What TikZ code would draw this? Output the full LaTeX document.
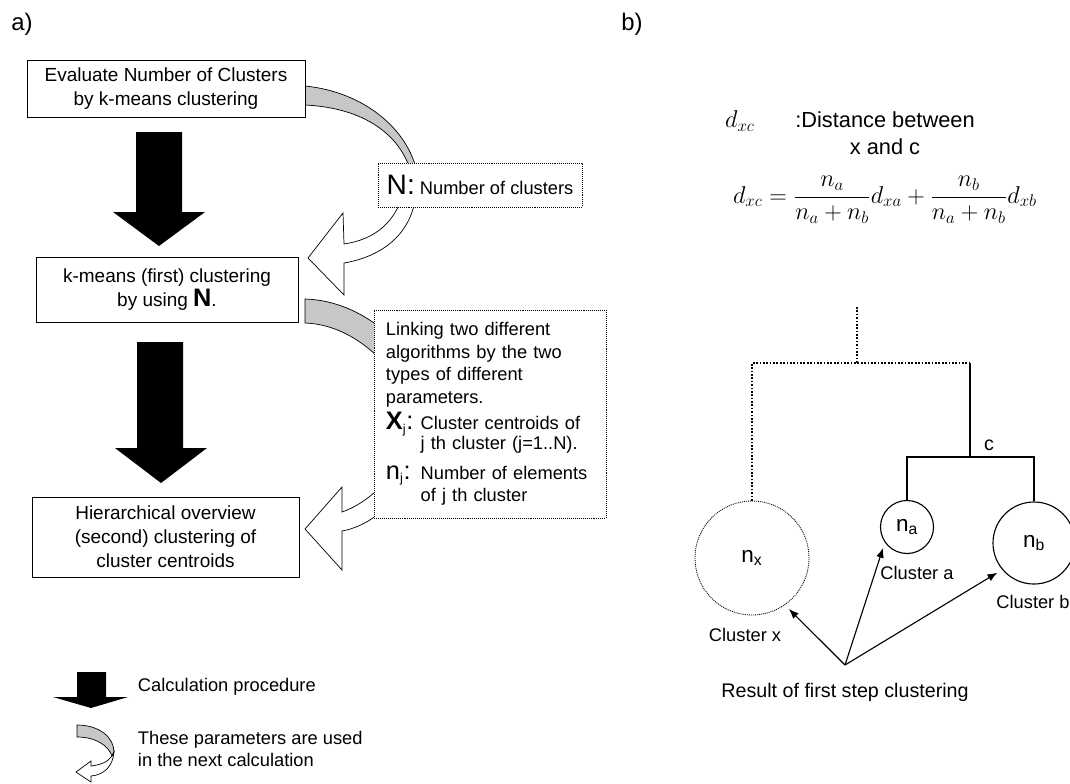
\documentclass[tikz,border=0pt]{standalone}
\usepackage{fontspec}
\setmainfont{Liberation Sans}
\usetikzlibrary{arrows.meta}

\newcommand{\bigtxt}[1]{{\fontsize{18}{18}\selectfont #1}}

\begin{document}
\begin{tikzpicture}[x=0.025cm,y=-0.025cm,font=\fontsize{13}{16}\selectfont,
	stepbox/.style={draw,line width=0.6pt,fill=white,align=center,inner sep=0pt,font=\fontsize{13.5}{17}\selectfont},
	notebox/.style={draw,line width=0.5pt,dash pattern=on 0.7pt off 0.7pt,fill=white,align=left},
	paramarrow/.style={draw=black,line width=0.5pt,fill=black!22},
	hollowarrow/.style={draw=black,line width=0.5pt,fill=white},
	treeline/.style={line width=1pt},
	treedots/.style={line width=1pt,dash pattern=on 1.2pt off 1.2pt},
	cluster/.style={circle,draw,line width=0.8pt,inner sep=0pt,font=\fontsize{16}{16}\selectfont},
	ptr/.style={-{Latex[length=7pt,width=5.5pt]},line width=0.8pt,shorten >=4pt}]
	\useasboundingbox (0,0) rectangle (1070,783);
	%
	% a) calculation procedure
	\node[font=\fontsize{17}{18}\selectfont] (lbla) at (22,24) {a)};
		\fill (136,132) -- (182,132) -- (182,212) -- (205,212) -- (159,246) -- (113,212) -- (136,212) -- cycle;
		\fill (137,342) -- (183,342) -- (183,448) -- (207,448) -- (161,483) -- (115,448) -- (137,448) -- cycle;
	% parameter N
		\path[paramarrow] (305,86) .. controls (365,92) and (408,130) .. (417,172) -- (411,172) .. controls (400,135) and (365,108) .. (305,105) -- cycle;
		\path[hollowarrow] (401,200) .. controls (392,225) and (372,240) .. (344,244) -- (343,213) -- (308,258) -- (344,295) -- (344,263) .. controls (385,256) and (410,232) .. (415,200) -- cycle;
	% parameters X_j, n_j
		\path[paramarrow] (305,299) .. controls (335,300) and (365,312) .. (395,340) -- (390,370) .. controls (365,340) and (335,324) .. (305,323) -- cycle;
		\path[hollowarrow] (395,470) .. controls (380,490) and (362,505) .. (342,512) -- (342,487) -- (305,529) -- (342,570) -- (342,531) .. controls (365,527) and (388,510) .. (400,490) -- cycle;
	%
	\node[stepbox,minimum width=6.95cm,minimum height=1.425cm] (evalbox) at (166,88.5) {Evaluate Number of Clusters\\by k-means clustering};
	\node[stepbox,minimum width=6.55cm,minimum height=1.625cm] (kmbox) at (167,289.5) {k-means (first) clustering\\by using \bigtxt{\textbf{N}}.};
	\node[stepbox,minimum width=6.675cm,minimum height=2cm] (hierbox) at (165.5,537) {Hierarchical overview\\(second) clustering of\\cluster centroids};
	%
	\node[notebox,minimum height=1.1cm,minimum width=5.1cm] (nbox) at (480,185) {{\fontsize{20}{20}\selectfont N:} Number of clusters};
	\node[notebox,minimum height=5.2cm,text width=5.2cm,inner xsep=0.3cm] (linkbox) at (490,414) {\hyphenpenalty=10000
		Linking two different\\
		algorithms by the two\\
		types of different\\
		parameters.\\[3pt]
		\makebox[1.9em][l]{\bigtxt{\textbf{X}}\textsubscript{j}\bigtxt{:}}Cluster centroids of\\[-2pt]
		\hspace*{1.9em}j th cluster (j=1..N).\\[5pt]
		\makebox[1.9em][l]{\bigtxt{n}\textsubscript{j}\bigtxt{:}}Number of elements\\
		\hspace*{1.9em}of j th cluster};
	%
	% legend
		\fill (77,672) -- (106,672) -- (106,697) -- (128,697) -- (91,708) -- (53,697) -- (77,697) -- cycle;
	\node[anchor=west] (legproc) at (133,687) {Calculation procedure};
		\path[paramarrow] (77,725) .. controls (100,725) and (114,738) .. (114,752) -- (112,756) .. controls (108,745) and (95,737) .. (77,737) -- cycle;
		\path[hollowarrow] (114,752) .. controls (113,766) and (104,775) .. (91,776) -- (91,782) -- (76,772) -- (91,761) -- (91,766) .. controls (100,765) and (108,762) .. (112,756) -- cycle;
	\node[anchor=west,align=left,font=\fontsize{13}{15.6}\selectfont] (legparam) at (133,749) {These parameters are used\\in the next calculation};
	%
	% b) hierarchical step
	\node[font=\fontsize{17}{18}\selectfont] (lblb) at (632,24) {b)};
	\node[font=\fontsize{18}{18}\selectfont] (dlabel) at (740,121) {$d_{xc}$};
	\node[font=\fontsize{15.5}{19}\selectfont,align=center] (dtext) at (885,133) {:Distance between\\x and c};
	\node[font=\fontsize{18}{22}\selectfont] (dformula) at (885,200) {$\displaystyle d_{xc}=\frac{n_a}{n_a+n_b}d_{xa}+\frac{n_b}{n_a+n_b}d_{xb}$};
	%
	\node[cluster,minimum size=2.85cm,line width=0.6pt,dash pattern=on 0.7pt off 0.7pt] (nx) at (752,558) {n\textsubscript{x}};
	\node[cluster,minimum size=1.325cm] (na) at (907,527) {n\textsubscript{a}};
	\node[cluster,minimum size=2.05cm] (nb) at (1034,543) {n\textsubscript{b}};
	\coordinate (top) at (857,307);
	\coordinate (joinxc) at (857,363);
	\coordinate (xc) at (970,363);
	\coordinate (c) at (970,457);
		\draw[treedots] (top) -- (joinxc);
		\draw[treedots] (nx.north) |- (xc);
		\draw[treeline] (xc) -- (c);
		\draw[treeline] (na.north) |- (c) -| (nb.north);
	\node[font=\fontsize{14}{14}\selectfont] (clabel) at (989,445) {c};
	%
	\node (labx) at (745,635) {Cluster x};
	\node (laba) at (917,573) {Cluster a};
	\node (labb) at (1033,602) {Cluster b};
	\coordinate (res) at (845,665);
		\draw[ptr] (res) -- (nx.-55);
		\draw[ptr] (res) -- (na.215);
		\draw[ptr] (res) -- (nb.220);
	\node[font=\fontsize{14}{16}\selectfont] (restext) at (845,692) {Result of first step clustering};
\end{tikzpicture}
\end{document}
